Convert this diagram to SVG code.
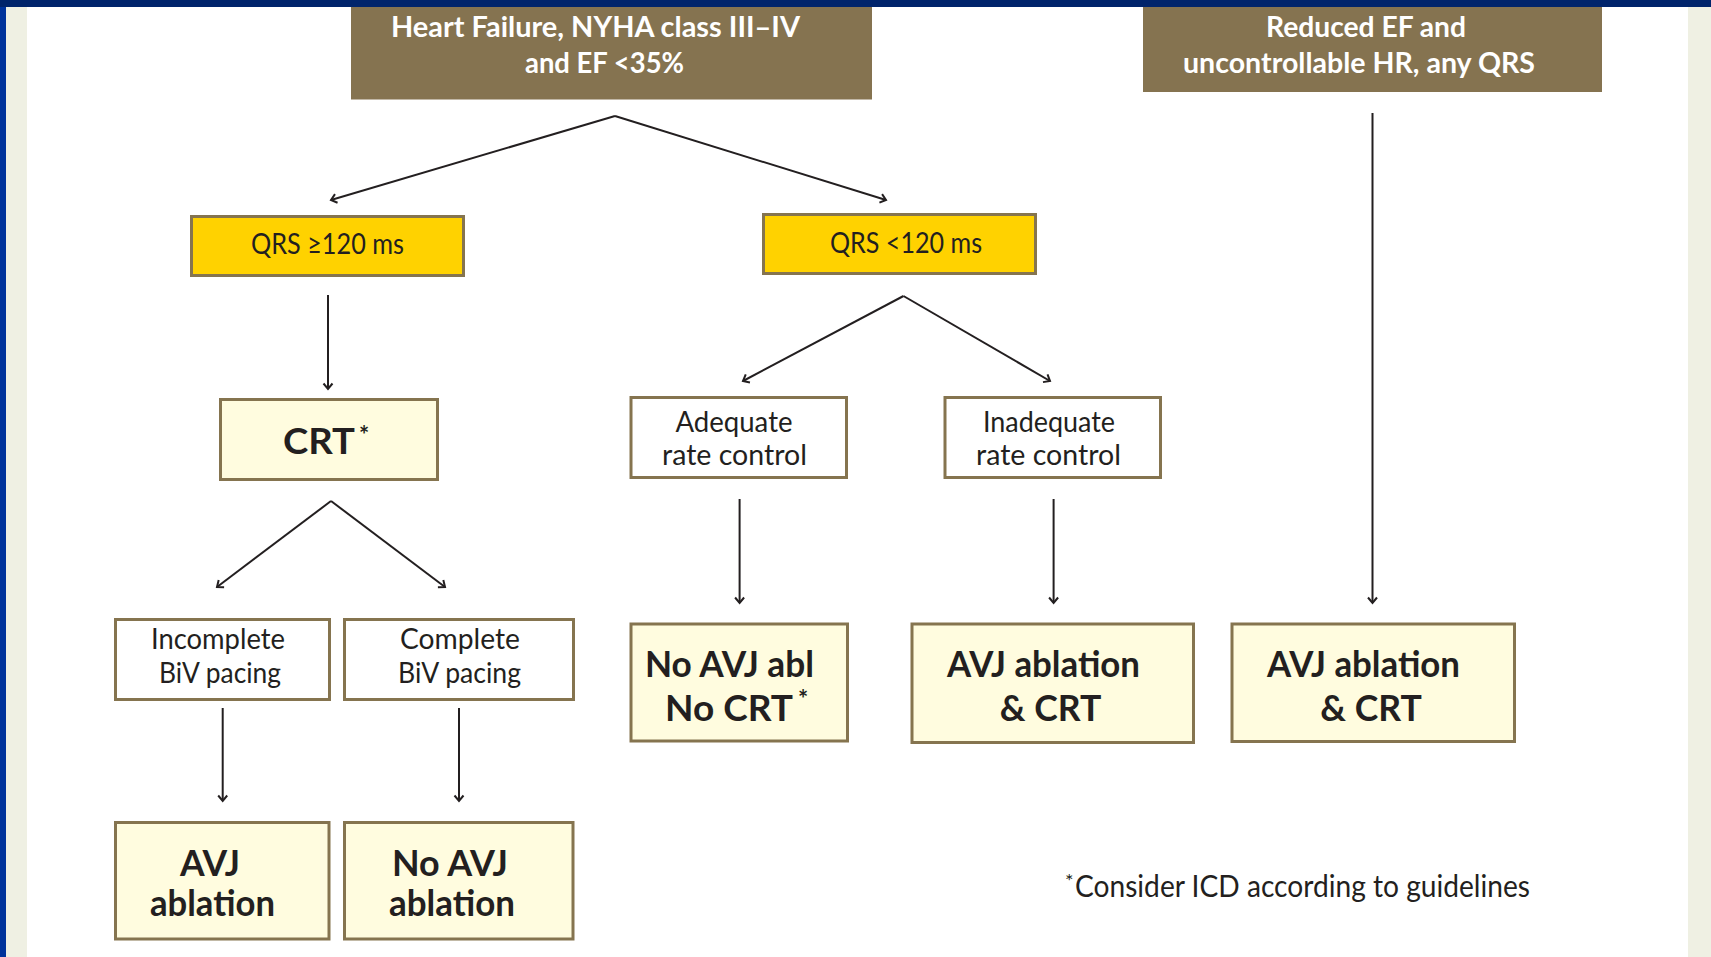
<svg xmlns="http://www.w3.org/2000/svg" width="1711" height="957" viewBox="0 0 1711 957">
<defs>
<style>
.hdr{fill:#857350}
.yel{fill:#FFD200;stroke:#85744F;stroke-width:3}
.crm{fill:#FFFCDF;stroke:#85744F;stroke-width:3}
.wht{fill:#FFFFFF;stroke:#85744F;stroke-width:3}
text{font-family:Lato,"Open Sans","Liberation Sans",sans-serif;text-anchor:middle;fill:#231F20}
.ht{font-size:29px;font-weight:700;fill:#FFFFFF}
.rt{font-size:29px;font-weight:400}
.bt{font-size:36px;font-weight:700}
.ast{font-size:24px;font-weight:700;text-anchor:start}
.fn{font-size:30px;font-weight:400;text-anchor:start}
.con path{fill:none;stroke:#231F20;stroke-width:2}
</style>
<marker id="ah" viewBox="-7 -6 9 12" refX="0" refY="0" markerWidth="9" markerHeight="12" markerUnits="userSpaceOnUse" orient="auto">
<path d="M-5.5,-4.5 L0,0 L-5.5,4.5" fill="none" stroke="#231F20" stroke-width="2"/>
</marker>
</defs>
<rect x="0" y="0" width="1711" height="957" fill="#FFFFFF"/>
<rect x="6" y="0" width="21" height="957" fill="#EFF0E3"/>
<rect x="1688" y="0" width="23" height="957" fill="#EFF0E3"/>
<rect x="0" y="0" width="6" height="957" fill="#00339B"/>

<g id="hf-header">
<rect class="hdr" x="351" y="0" width="521" height="99.5"/>
<text class="ht" x="595.5" y="37" textLength="409" lengthAdjust="spacingAndGlyphs">Heart Failure, NYHA class III–IV</text>
<text class="ht" x="604.5" y="73" textLength="159" lengthAdjust="spacingAndGlyphs">and EF &lt;35%</text>
</g>
<g id="ref-header">
<rect class="hdr" x="1143" y="0" width="459" height="92"/>
<text class="ht" x="1366" y="37" textLength="200" lengthAdjust="spacingAndGlyphs">Reduced EF and</text>
<text class="ht" x="1359" y="73" textLength="352" lengthAdjust="spacingAndGlyphs">uncontrollable HR, any QRS</text>
</g>
<rect x="0" y="0" width="1711" height="7" fill="#00246B"/>

<g id="qrs-wide">
<rect class="yel" x="191.5" y="216.5" width="272" height="59"/>
<text class="rt" x="327.5" y="254" textLength="153" lengthAdjust="spacingAndGlyphs">QRS ≥120 ms</text>
</g>
<g id="qrs-narrow">
<rect class="yel" x="763.5" y="214.5" width="272" height="59"/>
<text class="rt" x="906" y="253" textLength="152" lengthAdjust="spacingAndGlyphs">QRS &lt;120 ms</text>
</g>
<g id="crt">
<rect class="crm" x="220.5" y="399.5" width="217" height="80"/>
<text class="bt" x="319" y="454" style="font-size:37px" textLength="72" lengthAdjust="spacingAndGlyphs">CRT</text>
<text class="ast" x="359" y="444">*</text>
</g>
<g id="incomplete">
<rect class="wht" x="115.5" y="619.5" width="214" height="80"/>
<text class="rt" x="218" y="649" textLength="134" lengthAdjust="spacingAndGlyphs">Incomplete</text>
<text class="rt" x="220" y="683" textLength="122" lengthAdjust="spacingAndGlyphs">BiV pacing</text>
</g>
<g id="complete">
<rect class="wht" x="344.5" y="619.5" width="229" height="80"/>
<text class="rt" x="460" y="649" textLength="120" lengthAdjust="spacingAndGlyphs">Complete</text>
<text class="rt" x="459.5" y="683" textLength="123" lengthAdjust="spacingAndGlyphs">BiV pacing</text>
</g>
<g id="avj-ablation">
<rect class="crm" x="115.5" y="822.5" width="213.5" height="116.5"/>
<text class="bt" x="210" y="876" textLength="60" lengthAdjust="spacingAndGlyphs">AVJ</text>
<text class="bt" x="212.5" y="916" textLength="125" lengthAdjust="spacingAndGlyphs">ablation</text>
</g>
<g id="no-avj-ablation">
<rect class="crm" x="344.5" y="822.5" width="228.5" height="116.5"/>
<text class="bt" x="450" y="876" textLength="116" lengthAdjust="spacingAndGlyphs">No AVJ</text>
<text class="bt" x="452" y="916" textLength="126" lengthAdjust="spacingAndGlyphs">ablation</text>
</g>
<g id="adequate">
<rect class="wht" x="631" y="397.5" width="215.5" height="80"/>
<text class="rt" x="734" y="432" textLength="117" lengthAdjust="spacingAndGlyphs">Adequate</text>
<text class="rt" x="734.5" y="465" textLength="145" lengthAdjust="spacingAndGlyphs">rate control</text>
</g>
<g id="inadequate">
<rect class="wht" x="945" y="397.5" width="215.5" height="80"/>
<text class="rt" x="1049" y="432" textLength="132" lengthAdjust="spacingAndGlyphs">Inadequate</text>
<text class="rt" x="1048.5" y="465" textLength="145" lengthAdjust="spacingAndGlyphs">rate control</text>
</g>
<g id="no-avj-no-crt">
<rect class="crm" x="631" y="624" width="216.5" height="117"/>
<text class="bt" x="729.5" y="677" textLength="169" lengthAdjust="spacingAndGlyphs">No AVJ abl</text>
<text class="bt" x="729" y="721" textLength="128" lengthAdjust="spacingAndGlyphs">No CRT</text>
<text class="ast" x="798" y="708">*</text>
</g>
<g id="avj-crt-1">
<rect class="crm" x="912" y="624" width="281.5" height="118.5"/>
<text class="bt" x="1043.5" y="677" textLength="193" lengthAdjust="spacingAndGlyphs">AVJ ablation</text>
<text class="bt" x="1050.5" y="721" textLength="101.5" lengthAdjust="spacingAndGlyphs">&amp; CRT</text>
</g>
<g id="avj-crt-2">
<rect class="crm" x="1232" y="624" width="282.5" height="117.5"/>
<text class="bt" x="1363.5" y="677" textLength="193" lengthAdjust="spacingAndGlyphs">AVJ ablation</text>
<text class="bt" x="1371" y="721" textLength="101.5" lengthAdjust="spacingAndGlyphs">&amp; CRT</text>
</g>

<g id="connectors" class="con">
<path d="M615,116 L331,200" marker-end="url(#ah)"/>
<path d="M615,116 L886,200" marker-end="url(#ah)"/>
<path d="M328,295 L328,389" marker-end="url(#ah)"/>
<path d="M331,501 L217,587" marker-end="url(#ah)"/>
<path d="M331,501 L445,587" marker-end="url(#ah)"/>
<path d="M222.7,708 L222.7,801" marker-end="url(#ah)"/>
<path d="M459,708 L459,801" marker-end="url(#ah)"/>
<path d="M903.5,296 L743,381" marker-end="url(#ah)"/>
<path d="M903.5,296 L1050,381" marker-end="url(#ah)"/>
<path d="M739.6,499 L739.6,603" marker-end="url(#ah)"/>
<path d="M1053.6,499 L1053.6,603" marker-end="url(#ah)"/>
<path d="M1372.5,113 L1372.5,603" marker-end="url(#ah)"/>
</g>

<g id="footnote">
<text class="ast" x="1065" y="888" style="font-weight:400;font-size:20px">*</text>
<text class="fn" x="1075" y="897" textLength="455" lengthAdjust="spacingAndGlyphs">Consider ICD according to guidelines</text>
</g>
</svg>
